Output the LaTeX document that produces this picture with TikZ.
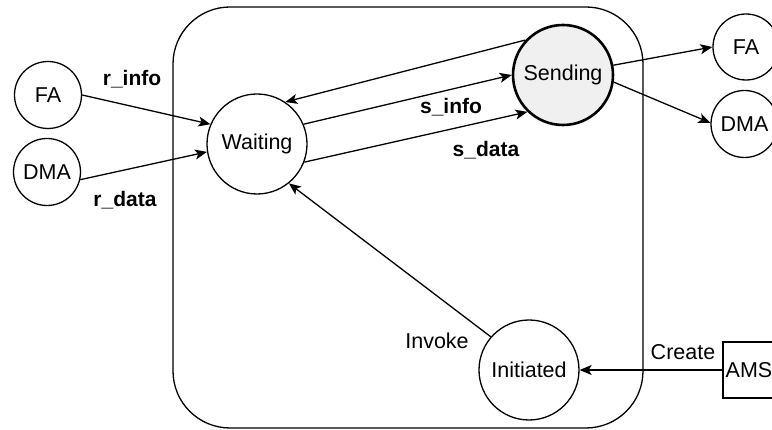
\documentclass[tikz,border=0pt]{standalone}
\usepackage{fontspec}
\setmainfont{Liberation Sans}
\usetikzlibrary{arrows.meta}
\begin{document}
\begin{tikzpicture}[x=1pt,y=-1pt,
  txt/.style={font=\fontsize{21.5}{24}\selectfont},
  lbl/.style={font=\fontsize{21}{24}\selectfont\bfseries},
  state/.style={circle,draw,line width=1.3pt,minimum size=100pt,inner sep=0pt,txt},
  peer/.style={circle,draw,line width=1.3pt,minimum size=67pt,inner sep=0pt,txt},
  flow/.style={line width=1.3pt,-{Stealth[length=12pt,width=10pt,inset=3pt]}}
]
\useasboundingbox (0,0) rectangle (772,430);
\clip (0,0) rectangle (772,430);

% container of the internal states
\draw[line width=1.3pt,rounded corners=57pt] (173,7) rectangle (643,428);

% states
\node[state] (w) at (257,144) {Waiting};
\node[state,fill=black!6,line width=2.6pt] (s) at (563,75) {Sending};
\node[state] (i) at (529,370) {Initiated};

% peers
\node[peer] (fal) at (48,95) {FA};
\node[peer] (dmal) at (47,172) {DMA};
\node[peer,minimum size=66pt] (far) at (746,47) {FA};
\node[peer] (dmar) at (744.5,124) {DMA};
\node[draw,line width=1.3pt,minimum width=52pt,minimum height=56pt,inner sep=0pt,txt] (ams) at (749,370) {AMS};

% transitions
\draw[flow] (fal.east) -- (w.157);
\draw[flow] (dmal.-13) -- (w.189);
\draw[flow] (s.137) -- (w.56);
\draw[flow] (w.23) -- (s.180);
\draw[flow] (w.-21) -- (s.226);
\draw[flow] (s.11) -- (far.180);
\draw[flow] (s.-8) -- (dmar.178);
\draw[flow] (i.139) -- (w.-51);
\draw[flow] (ams.west) -- (i.east);

% labels
\node[lbl] (lri) at (132,79) {r\_info};
\node[lbl] (lrd) at (125,200) {r\_data};
\node[lbl] (lsi) at (451,107) {s\_info};
\node[lbl] (lsd) at (486,150) {s\_data};
\node[txt] (linv) at (437,341) {Invoke};
\node[txt] (lcr) at (683,352) {Create};
\end{tikzpicture}
\end{document}
